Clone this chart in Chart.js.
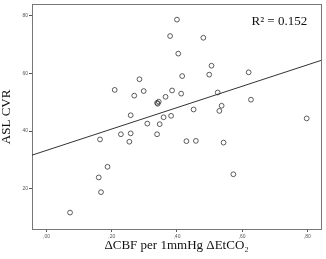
<!DOCTYPE html>
<html>
<head>
<meta charset="utf-8">
<script src="https://cdn.jsdelivr.net/npm/chart.js@4.4.1/dist/chart.umd.min.js"></script>
<style>
  html, body { margin: 0; padding: 0; background: #fff; }
  #wrap { width: 326px; height: 259px; }
</style>
</head>
<body>
<div id="wrap"><canvas id="myChart"></canvas></div>
<script>
// data
const cbfValues = [0.400, 0.379, 0.481, 0.404, 0.506, 0.416, 0.499, 0.620, 0.285, 0.209,
  0.298, 0.385, 0.269, 0.413, 0.365, 0.525, 0.627, 0.339, 0.344, 0.341,
  0.451, 0.537, 0.530, 0.258, 0.382, 0.359, 0.309, 0.347, 0.798, 0.164,
  0.228, 0.258, 0.254, 0.339, 0.429, 0.458, 0.543, 0.187, 0.160, 0.573,
  0.167, 0.072];
const cvrValues = [78.7, 73.0, 72.4, 66.9, 62.7, 59.1, 59.6, 60.4, 58.0, 54.3,
  53.9, 54.1, 52.3, 53.0, 51.9, 53.4, 50.9, 49.8, 50.2, 49.5,
  47.5, 48.8, 47.0, 45.5, 45.3, 44.8, 42.6, 42.4, 44.4, 37.1,
  38.9, 39.2, 36.3, 38.9, 36.5, 36.6, 36.0, 27.6, 23.9, 25.0,
  18.8, 11.7];
const xTicks = [0, 0.2, 0.4, 0.6, 0.8];
const yTicks = [20, 40, 60, 80];
const xRange = [-0.0447, 0.8425];
const yRange = [6.0, 83.85];
const trendIntercept = 33.3;
const trendSlope = 37.1;
const rSquaredLabel = "R\u00b2 = 0.152";

const ctx = document.getElementById("myChart").getContext("2d");

const points = cbfValues.map(function (x, i) {
  return { x: x, y: cvrValues[i] };
});
const trendLine = xRange.map(function (x) {
  return { x: x, y: trendIntercept + trendSlope * x };
});

// R² label in the top right corner of the plot
const rSquaredPlugin = {
  id: "rSquared",
  afterDatasetsDraw: function (chart) {
    const c = chart.ctx;
    const area = chart.chartArea;
    c.save();
    c.font = "13px 'Liberation Serif'";
    c.fillStyle = "#111";
    c.textAlign = "right";
    c.textBaseline = "middle";
    c.fillText(rSquaredLabel, area.right - 14, area.top + 17);
    c.restore();
  },
};

const tickFont = { size: 5, family: "Liberation Sans" };

new Chart(ctx, {
  type: "scatter",
  data: {
    datasets: [
      {
        label: "trend",
        type: "line",
        data: trendLine,
        borderColor: "#333",
        borderWidth: 1,
        pointRadius: 0,
        fill: false,
      },
      {
        label: "subjects",
        data: points,
        pointStyle: "circle",
        pointRadius: 2.4,
        pointBorderWidth: 0.8,
        pointBorderColor: "#333",
        pointBackgroundColor: "rgba(255,255,255,0)",
      },
    ],
  },
  options: {
    responsive: true,
    maintainAspectRatio: false,
    animation: false,
    layout: { padding: { top: 1, right: 2, left: 0, bottom: 0 } },
    scales: {
      x: {
        type: "linear",
        min: xRange[0],
        max: xRange[1],
        afterBuildTicks: function (scale) {
          scale.ticks = xTicks.map(function (v) { return { value: v }; });
        },
        afterFit: function (scale) {
          scale.height = 30;
        },
        ticks: {
          font: tickFont,
          color: "#555",
          padding: 2,
          maxRotation: 0,
          callback: function (value) {
            return "," + Math.round(value * 100).toString().padStart(2, "0");
          },
        },
        grid: {
          drawOnChartArea: false,
          drawTicks: true,
          tickLength: 3,
          color: "#555",
        },
        border: { color: "#777", width: 1 },
        title: {
          display: true,
          text: "\u0394CBF per 1mmHg \u0394EtCO\u2082",
          font: { size: 13, family: "Liberation Serif", lineHeight: 1 },
          color: "#111",
          padding: { top: 0, bottom: 7 },
        },
      },
      y: {
        type: "linear",
        min: yRange[0],
        max: yRange[1],
        afterBuildTicks: function (scale) {
          scale.ticks = yTicks.map(function (v) { return { value: v }; });
        },
        afterFit: function (scale) {
          scale.width = 32;
        },
        ticks: {
          font: tickFont,
          color: "#555",
          padding: 1,
        },
        grid: {
          drawOnChartArea: false,
          drawTicks: true,
          tickLength: 3,
          color: "#555",
        },
        border: { color: "#777", width: 1 },
        title: {
          display: true,
          text: "ASL CVR",
          font: { size: 13, family: "Liberation Serif", lineHeight: 1 },
          color: "#111",
          padding: { top: 0, bottom: 0 },
        },
      },
      x2: {
        type: "linear",
        position: "top",
        display: true,
        min: xRange[0],
        max: xRange[1],
        afterFit: function (scale) {
          scale.height = 0;
        },
        ticks: { display: false },
        grid: { display: false, drawTicks: false },
        border: { color: "#777", width: 1 },
      },
      y2: {
        type: "linear",
        position: "right",
        display: true,
        min: yRange[0],
        max: yRange[1],
        afterFit: function (scale) {
          scale.width = 0;
        },
        ticks: { display: false },
        grid: { display: false, drawTicks: false },
        border: { color: "#777", width: 1 },
      },
    },
    plugins: {
      legend: { display: false },
      tooltip: { enabled: false },
    },
  },
  plugins: [rSquaredPlugin],
});
</script>
</body>
</html>
